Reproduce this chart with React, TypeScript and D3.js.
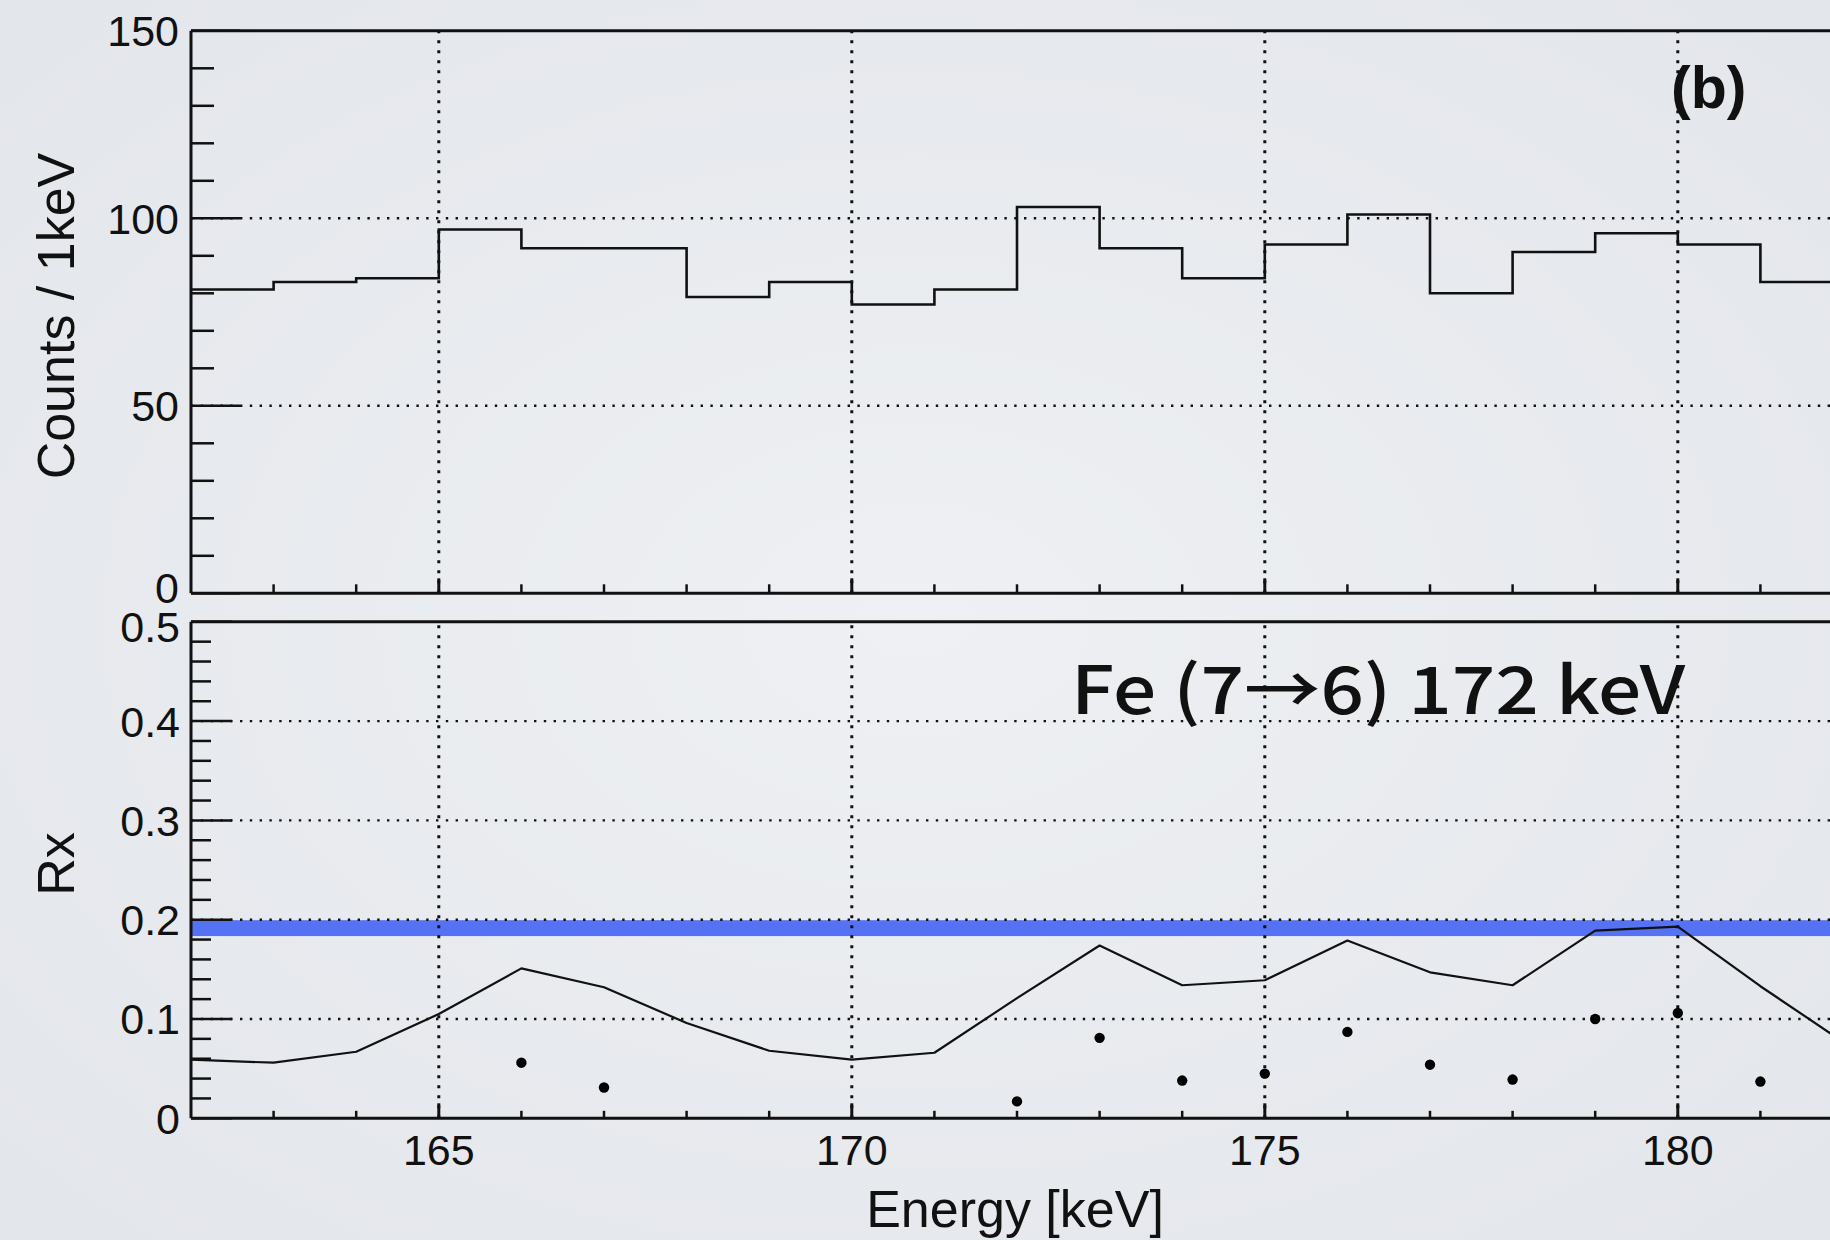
import React from "react";
import * as d3 from "d3";

// ---------- data ----------
const binStart = 162;
const binWidth = 1;
const counts = [81, 83, 84, 97, 92, 92, 79, 83, 77, 81, 103, 92, 84, 93, 101, 80, 91, 96, 93, 83];

const rxLineEnergy = [162, 163, 164, 165, 166, 167, 168, 169, 170, 171, 172, 173, 174, 175, 176, 177, 178, 179, 180, 181, 182];
const rxLineValue = [0.059, 0.056, 0.067, 0.105, 0.151, 0.132, 0.096, 0.068, 0.059, 0.066, 0.121, 0.174, 0.134, 0.139, 0.179, 0.147, 0.134, 0.189, 0.193, 0.133, 0.077];

const rxPointEnergy = [166, 167, 172, 173, 174, 175, 176, 177, 178, 179, 180, 181];
const rxPointValue = [0.056, 0.031, 0.017, 0.081, 0.038, 0.045, 0.087, 0.054, 0.039, 0.1, 0.106, 0.037];

const bandLow = 0.1835;
const bandHigh = 0.1995;

const countMajorTicks = [0, 50, 100, 150];
const countTickLabels = ["0", "50", "100", "150"];
const rxMajorTicks = [0, 0.1, 0.2, 0.3, 0.4, 0.5];
const rxTickLabels = ["0", "0.1", "0.2", "0.3", "0.4", "0.5"];
const energyMajorTicks = [165, 170, 175, 180];
const energyTickLabels = ["165", "170", "175", "180"];

const xTitle = "Energy [keV]";
const topYTitle = "Counts / 1keV";
const bottomYTitle = "Rx";
const annotation = "Fe (7→6) 172 keV";
const panelTag = "(b)";

// ---------- layout ----------
const W = 1830;
const H = 1240;
const xLeft = 191;
const pxPerKeV = 82.6;
const xMax = 184;

const x = d3.scaleLinear().domain([162, xMax]).range([xLeft, xLeft + (xMax - 162) * pxPerKeV]);
const yTop = d3.scaleLinear().domain([0, 150]).range([593.3, 30.8]);
const yBot = d3.scaleLinear().domain([0, 0.5]).range([1118.3, 621.8]);

const FONT = "'Liberation Sans', Arial, Helvetica, sans-serif";

function range(a: number, b: number, step: number) {
  const out: number[] = [];
  for (let v = a; v <= b + 1e-9; v += step) out.push(Math.round(v * 1000) / 1000);
  return out;
}

export default function App() {
  const right = W + 20;

  const histPts: [number, number][] = counts.map((c, i) => [binStart + i * binWidth, c]);
  histPts.push([binStart + counts.length * binWidth, counts[counts.length - 1]]);
  const histPath = d3
    .line<[number, number]>()
    .x((d) => x(d[0]))
    .y((d) => yTop(d[1]))
    .curve(d3.curveStepAfter)(histPts) as string;

  const rxPath = d3
    .line<number>()
    .x((_, i) => x(rxLineEnergy[i]))
    .y((d) => yBot(d))(rxLineValue) as string;

  const countMinor = range(0, 150, 10).filter((v) => v % 50 !== 0);
  const rxMinor = range(0, 0.5, 0.02).filter((v) => Math.abs(v * 10 - Math.round(v * 10)) > 1e-6);
  const energyMinor = range(163, 183, 1).filter((v) => v % 5 !== 0);

  const hDot = { stroke: "#111", strokeWidth: 2.4, strokeDasharray: "2.4 7.4" };
  const vDot = { stroke: "#111", strokeWidth: 3, strokeDasharray: "3 7" };

  return (
    <div style={{ position: "absolute", left: 0, top: 0, width: W, height: H, overflow: "hidden" }}>
      <svg width={W} height={H} style={{ display: "block" }}>
        <defs>
          <radialGradient id="bg" cx="50%" cy="50%" r="75%">
            <stop offset="0%" stopColor="#eef0f3" />
            <stop offset="100%" stopColor="#e2e5ea" />
          </radialGradient>
        </defs>
        <rect x={0} y={0} width={W} height={H} fill="url(#bg)" />

        {/* ---------- top panel ---------- */}
        <g>
          {[50, 100].map((v) => (
            <line key={"tg" + v} x1={xLeft} x2={right} y1={yTop(v)} y2={yTop(v)} {...hDot} />
          ))}
          {energyMajorTicks.map((v) => (
            <line key={"tv" + v} x1={x(v)} x2={x(v)} y1={yTop(0)} y2={yTop(150)} {...vDot} />
          ))}
          <path d={histPath} fill="none" stroke="#111" strokeWidth={2.6} />
          {/* frame */}
          <line x1={xLeft} x2={right} y1={yTop(150)} y2={yTop(150)} stroke="#111" strokeWidth={3} />
          <line x1={xLeft} x2={right} y1={yTop(0)} y2={yTop(0)} stroke="#111" strokeWidth={3} />
          <line x1={xLeft} x2={xLeft} y1={yTop(150)} y2={yTop(0)} stroke="#111" strokeWidth={3} />
          {countMinor.map((v) => (
            <line key={"tmi" + v} x1={xLeft} x2={xLeft + 23} y1={yTop(v)} y2={yTop(v)} stroke="#111" strokeWidth={2.5} />
          ))}
          {countMajorTicks.map((v) => (
            <line key={"tma" + v} x1={xLeft} x2={xLeft + 49} y1={yTop(v)} y2={yTop(v)} stroke="#111" strokeWidth={2.5} />
          ))}
          {energyMinor.map((v) => (
            <line key={"txm" + v} x1={x(v)} x2={x(v)} y1={yTop(0)} y2={yTop(0) - 9} stroke="#111" strokeWidth={2.5} />
          ))}
          {energyMajorTicks.map((v) => (
            <line key={"txM" + v} x1={x(v)} x2={x(v)} y1={yTop(0)} y2={yTop(0) - 15} stroke="#111" strokeWidth={3} />
          ))}
          {countMajorTicks.map((v, i) => (
            <text key={"tl" + v} x={xLeft - 12} y={yTop(v) - (v === 0 ? 6 : 0)} dy="0.36em" textAnchor="end" fontFamily={FONT} fontSize={43} fill="#111">
              {countTickLabels[i]}
            </text>
          ))}
          <text
            transform={`translate(74, ${(yTop(0) + yTop(150)) / 2 + 4}) rotate(-90)`}
            textAnchor="middle"
            fontFamily={FONT}
            fontSize={52}
            fill="#111"
          >
            {topYTitle}
          </text>
          <text x={1671} y={108} fontFamily={FONT} fontWeight="bold" fontSize={59} fill="#111">
            {panelTag}
          </text>
        </g>

        {/* ---------- bottom panel ---------- */}
        <g>
          <rect x={xLeft} width={right - xLeft} y={yBot(bandHigh)} height={yBot(bandLow) - yBot(bandHigh)} fill="#5572f5" />
          {[0.1, 0.2, 0.3, 0.4].map((v) => (
            <line key={"bg" + v} x1={xLeft} x2={right} y1={yBot(v)} y2={yBot(v)} {...hDot} />
          ))}
          {energyMajorTicks.map((v) => (
            <line key={"bv" + v} x1={x(v)} x2={x(v)} y1={yBot(0)} y2={yBot(0.5)} {...vDot} />
          ))}
          <path d={rxPath} fill="none" stroke="#111" strokeWidth={2.2} strokeLinejoin="round" />
          {rxPointValue.map((v, i) => (
            <circle key={"p" + i} cx={x(rxPointEnergy[i])} cy={yBot(v)} r={5.2} fill="#000" />
          ))}
          {/* frame */}
          <line x1={xLeft} x2={right} y1={yBot(0.5)} y2={yBot(0.5)} stroke="#111" strokeWidth={3} />
          <line x1={xLeft} x2={right} y1={yBot(0)} y2={yBot(0)} stroke="#111" strokeWidth={3} />
          <line x1={xLeft} x2={xLeft} y1={yBot(0.5)} y2={yBot(0)} stroke="#111" strokeWidth={3} />
          {rxMinor.map((v) => (
            <line key={"bmi" + v} x1={xLeft} x2={xLeft + 20} y1={yBot(v)} y2={yBot(v)} stroke="#111" strokeWidth={2.5} />
          ))}
          {rxMajorTicks.map((v) => (
            <line key={"bma" + v} x1={xLeft} x2={xLeft + 41} y1={yBot(v)} y2={yBot(v)} stroke="#111" strokeWidth={2.5} />
          ))}
          {energyMinor.map((v) => (
            <line key={"bxm" + v} x1={x(v)} x2={x(v)} y1={yBot(0)} y2={yBot(0) - 7.5} stroke="#111" strokeWidth={2.5} />
          ))}
          {energyMajorTicks.map((v) => (
            <line key={"bxM" + v} x1={x(v)} x2={x(v)} y1={yBot(0)} y2={yBot(0) - 15} stroke="#111" strokeWidth={3} />
          ))}
          {rxMajorTicks.map((v, i) => (
            <text key={"bl" + v} x={xLeft - 11} y={yBot(v) + (v === 0.5 ? 5 : 0)} dy="0.36em" textAnchor="end" fontFamily={FONT} fontSize={43} fill="#111">
              {rxTickLabels[i]}
            </text>
          ))}
          {energyMajorTicks.map((v, i) => (
            <text key={"xl" + v} x={x(v)} y={1165} textAnchor="middle" fontFamily={FONT} fontSize={43} fill="#111">
              {energyTickLabels[i]}
            </text>
          ))}
          <text
            transform={`translate(74, ${(yBot(0) + yBot(0.5)) / 2 - 6}) rotate(-90)`}
            textAnchor="middle"
            fontFamily={FONT}
            fontSize={52}
            fill="#111"
          >
            {bottomYTitle}
          </text>
          <text x={1015} y={1227} textAnchor="middle" fontFamily={FONT} fontSize={52} fill="#111">
            {xTitle}
          </text>
          <text
            x={1071}
            y={714}
            fontFamily="'Noto Sans CJK JP', 'Noto Sans', sans-serif"
            fontWeight={500}
            fontSize={66}
            textLength={614}
            lengthAdjust="spacingAndGlyphs"
            fill="#111"
          >
            {annotation}
          </text>
        </g>
      </svg>
    </div>
  );
}
